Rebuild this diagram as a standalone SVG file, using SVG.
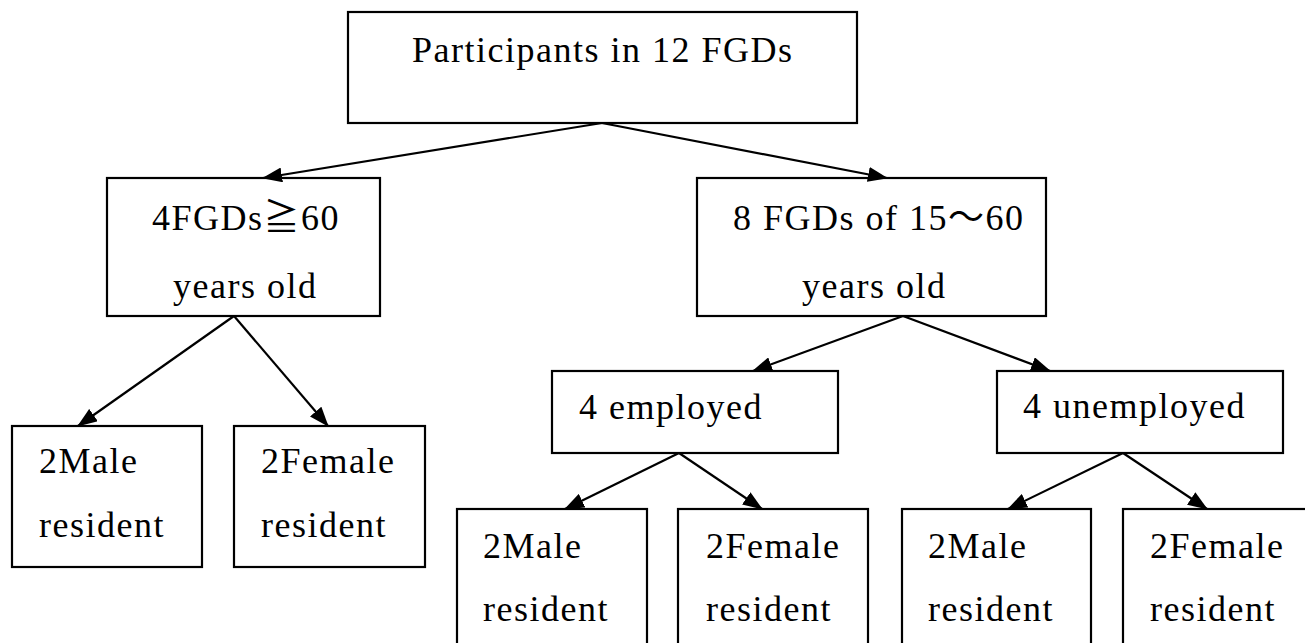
<svg xmlns="http://www.w3.org/2000/svg" width="1305" height="643" viewBox="0 0 1305 643">
<style>
.box{fill:#fff;stroke:#000;stroke-width:2.2}
.t{font-family:"Liberation Serif","Noto Sans CJK JP",serif;font-size:36px;letter-spacing:1.5px;fill:#000}
.c{stroke:#000;stroke-width:2.2;fill:none;marker-end:url(#ah)}
</style>
<defs>
<marker id="ah" markerUnits="userSpaceOnUse" markerWidth="20" markerHeight="15" refX="19" refY="7.5" orient="auto">
<path d="M0,0 L20,7.5 L0,15 z" fill="#000"/>
</marker>
</defs>
<rect width="1305" height="643" fill="#fff"/>
<g id="n-top">
<rect class="box" x="348" y="12" width="509" height="111"/>
<text class="t" x="412" y="62">Participants in 12 FGDs</text>
</g>
<g id="n-old">
<rect class="box" x="107" y="178" width="273" height="138"/>
<text class="t" x="152" y="230">4FGDs≧60</text>
<text class="t" x="173" y="298">years old</text>
</g>
<g id="n-young">
<rect class="box" x="697" y="178" width="349" height="138"/>
<text class="t" x="733" y="230">8 FGDs of 15～60</text>
<text class="t" x="802" y="298">years old</text>
</g>
<g id="n-employed">
<rect class="box" x="552" y="371" width="286" height="82"/>
<text class="t" x="579" y="419">4 employed</text>
</g>
<g id="n-unemployed">
<rect class="box" x="997" y="371" width="286" height="82"/>
<text class="t" x="1023" y="418">4 unemployed</text>
</g>
<g id="n-old-male">
<rect class="box" x="12" y="426" width="190" height="141"/>
<text class="t" x="39" y="473">2Male</text>
<text class="t" x="39" y="537">resident</text>
</g>
<g id="n-old-female">
<rect class="box" x="234" y="426" width="191" height="141"/>
<text class="t" x="261" y="473">2Female</text>
<text class="t" x="261" y="537">resident</text>
</g>
<g id="n-emp-male">
<rect class="box" x="457" y="509" width="190" height="141"/>
<text class="t" x="483" y="558">2Male</text>
<text class="t" x="483" y="621">resident</text>
</g>
<g id="n-emp-female">
<rect class="box" x="678" y="509" width="190" height="141"/>
<text class="t" x="706" y="558">2Female</text>
<text class="t" x="706" y="621">resident</text>
</g>
<g id="n-unemp-male">
<rect class="box" x="902" y="509" width="189" height="141"/>
<text class="t" x="928" y="558">2Male</text>
<text class="t" x="928" y="621">resident</text>
</g>
<g id="n-unemp-female">
<rect class="box" x="1123" y="509" width="190" height="141"/>
<text class="t" x="1150" y="558">2Female</text>
<text class="t" x="1150" y="621">resident</text>
</g>
<g id="connectors">
<line class="c" x1="602" y1="123" x2="263" y2="178"/>
<line class="c" x1="602" y1="123" x2="887" y2="178"/>
<line class="c" x1="234" y1="316" x2="78" y2="426"/>
<line class="c" x1="234" y1="316" x2="328" y2="426"/>
<line class="c" x1="903" y1="316" x2="753" y2="371"/>
<line class="c" x1="903" y1="316" x2="1050" y2="371"/>
<line class="c" x1="679" y1="453" x2="565" y2="509"/>
<line class="c" x1="679" y1="453" x2="762" y2="509"/>
<line class="c" x1="1123" y1="453" x2="1008" y2="509"/>
<line class="c" x1="1123" y1="453" x2="1207" y2="509"/>
</g>
</svg>
